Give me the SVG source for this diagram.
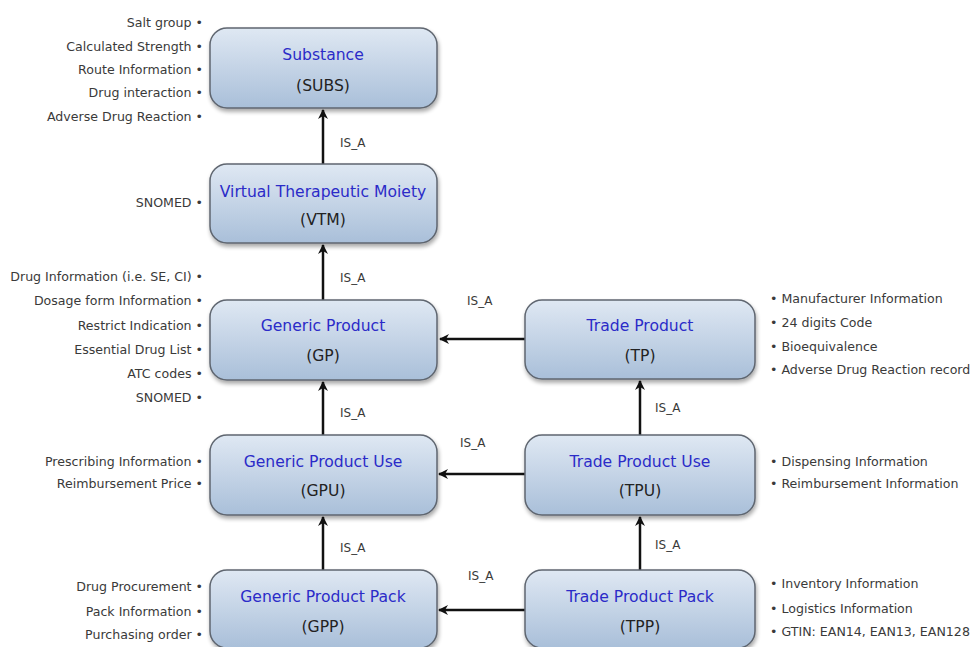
<svg xmlns="http://www.w3.org/2000/svg" width="977" height="647" viewBox="0 0 977 647">
<defs>
<linearGradient id="g" x1="0" y1="0" x2="0" y2="1">
<stop offset="0" stop-color="#dfe8f3"/>
<stop offset="1" stop-color="#a9bfd9"/>
</linearGradient>
<filter id="sh" x="-10%" y="-10%" width="125%" height="130%">
<feGaussianBlur in="SourceAlpha" stdDeviation="2"/>
<feOffset dx="1" dy="3"/>
<feComponentTransfer><feFuncA type="linear" slope="0.35"/></feComponentTransfer>
<feMerge><feMergeNode/><feMergeNode in="SourceGraphic"/></feMerge>
</filter>
<marker id="ah" viewBox="0 0 10 10" refX="9" refY="5" markerWidth="10" markerHeight="10" markerUnits="userSpaceOnUse" orient="auto">
<path d="M0,0 L10,5 L0,10 L3,5 Z" fill="#111"/>
</marker>
</defs>
<style>
.box{fill:url(#g);stroke:#5f6670;stroke-width:1.5;filter:url(#sh)}
.t{font-family:"DejaVu Sans",Verdana,sans-serif;font-size:15.6px;fill:#2b2bc8;text-anchor:middle}
.s{font-family:"DejaVu Sans",Verdana,sans-serif;font-size:15.6px;fill:#222;text-anchor:middle}
.l{font-family:"DejaVu Sans",Verdana,sans-serif;font-size:12.6px;fill:#3a3a3a;text-anchor:end}
.r{font-family:"DejaVu Sans",Verdana,sans-serif;font-size:12.6px;fill:#3a3a3a}
.isa{font-family:"DejaVu Sans",Verdana,sans-serif;font-size:12px;fill:#3a3a3a}
.c{stroke:#111;stroke-width:2.5;fill:none;marker-end:url(#ah)}
</style>
<rect width="977" height="647" fill="#fff"/>

<g id="connectors">
<line class="c" x1="323" y1="164" x2="323" y2="110"/>
<line class="c" x1="323" y1="300" x2="323" y2="245"/>
<line class="c" x1="323" y1="435" x2="323" y2="382"/>
<line class="c" x1="323" y1="570" x2="323" y2="517"/>
<line class="c" x1="640" y1="435" x2="640" y2="381"/>
<line class="c" x1="640" y1="570" x2="640" y2="517"/>
<line class="c" x1="525" y1="339" x2="440" y2="339"/>
<line class="c" x1="525" y1="474" x2="439" y2="474"/>
<line class="c" x1="525" y1="610" x2="439" y2="610"/>
<text class="isa" x="340" y="147">IS_A</text>
<text class="isa" x="340" y="282">IS_A</text>
<text class="isa" x="340" y="417">IS_A</text>
<text class="isa" x="340" y="552">IS_A</text>
<text class="isa" x="655" y="412">IS_A</text>
<text class="isa" x="655" y="549">IS_A</text>
<text class="isa" x="467" y="305">IS_A</text>
<text class="isa" x="460" y="447">IS_A</text>
<text class="isa" x="468" y="580">IS_A</text>
</g>

<g id="SUBS">
<rect class="box" x="210" y="28" width="227" height="80" rx="17"/>
<text class="t" x="323" y="60">Substance</text>
<text class="s" x="323" y="91">(SUBS)</text>
<text class="l" x="203" y="27">Salt group •</text>
<text class="l" x="203" y="51">Calculated Strength •</text>
<text class="l" x="203" y="74">Route Information •</text>
<text class="l" x="203" y="97">Drug interaction •</text>
<text class="l" x="203" y="121">Adverse Drug Reaction •</text>
</g>

<g id="VTM">
<rect class="box" x="210" y="164" width="227" height="79" rx="17"/>
<text class="t" x="323" y="197">Virtual Therapeutic Moiety</text>
<text class="s" x="323" y="225">(VTM)</text>
<text class="l" x="203" y="207">SNOMED •</text>
</g>

<g id="GP">
<rect class="box" x="210" y="300" width="227" height="80" rx="17"/>
<text class="t" x="323" y="331">Generic Product</text>
<text class="s" x="323" y="361">(GP)</text>
<text class="l" x="203" y="281">Drug Information (i.e. SE, CI) •</text>
<text class="l" x="203" y="305">Dosage form Information •</text>
<text class="l" x="203" y="330">Restrict Indication •</text>
<text class="l" x="203" y="354">Essential Drug List •</text>
<text class="l" x="203" y="378">ATC codes •</text>
<text class="l" x="203" y="402">SNOMED •</text>
</g>

<g id="GPU">
<rect class="box" x="210" y="435" width="227" height="80" rx="17"/>
<text class="t" x="323" y="467">Generic Product Use</text>
<text class="s" x="323" y="496">(GPU)</text>
<text class="l" x="203" y="466">Prescribing Information •</text>
<text class="l" x="203" y="488">Reimbursement Price •</text>
</g>

<g id="GPP">
<rect class="box" x="210" y="570" width="227" height="78" rx="17"/>
<text class="t" x="323" y="602">Generic Product Pack</text>
<text class="s" x="323" y="632">(GPP)</text>
<text class="l" x="203" y="591">Drug Procurement •</text>
<text class="l" x="203" y="616">Pack Information •</text>
<text class="l" x="203" y="639">Purchasing order •</text>
</g>

<g id="TP">
<rect class="box" x="525" y="300" width="230" height="79" rx="17"/>
<text class="t" x="640" y="331">Trade Product</text>
<text class="s" x="640" y="361">(TP)</text>
<text class="r" x="770" y="303">• Manufacturer Information</text>
<text class="r" x="770" y="327">• 24 digits Code</text>
<text class="r" x="770" y="351">• Bioequivalence</text>
<text class="r" x="770" y="374">• Adverse Drug Reaction record</text>
</g>

<g id="TPU">
<rect class="box" x="525" y="435" width="230" height="80" rx="17"/>
<text class="t" x="640" y="467">Trade Product Use</text>
<text class="s" x="640" y="496">(TPU)</text>
<text class="r" x="770" y="466">• Dispensing Information</text>
<text class="r" x="770" y="488">• Reimbursement Information</text>
</g>

<g id="TPP">
<rect class="box" x="525" y="570" width="230" height="78" rx="17"/>
<text class="t" x="640" y="602">Trade Product Pack</text>
<text class="s" x="640" y="632">(TPP)</text>
<text class="r" x="770" y="588">• Inventory Information</text>
<text class="r" x="770" y="613">• Logistics Information</text>
<text class="r" x="770" y="636">• GTIN: EAN14, EAN13, EAN128</text>
</g>
</svg>
